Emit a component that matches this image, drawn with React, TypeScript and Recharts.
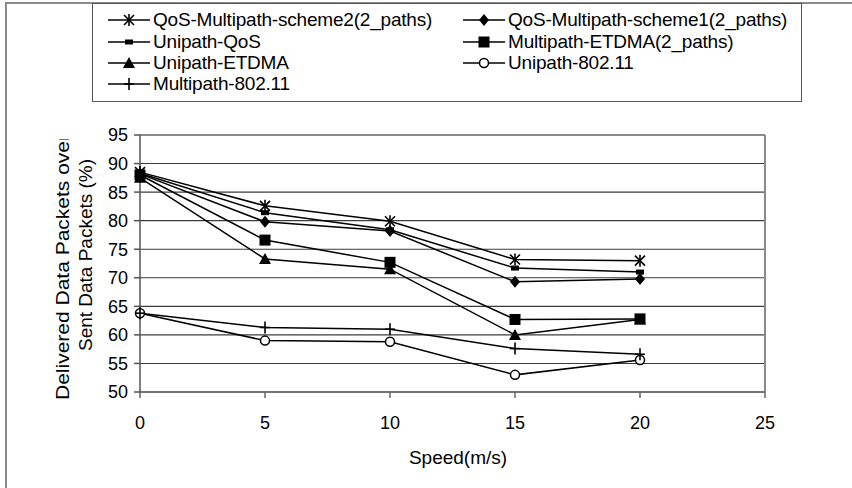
import { LineChart, Line, XAxis, YAxis, CartesianGrid, ReferenceLine, Label } from "recharts";

const speeds = [0, 5, 10, 15, 20];
const qosScheme2 = [88.5, 82.6, 79.9, 73.2, 73.0];
const qosScheme1 = [88.2, 79.8, 78.2, 69.3, 69.8];
const unipathQos = [88.3, 81.4, 78.4, 71.7, 71.0];
const multipathEtdma = [88.0, 76.6, 72.7, 62.7, 62.8];
const unipathEtdma = [87.5, 73.3, 71.5, 60.0, 62.7];
const unipath80211 = [63.8, 59.0, 58.8, 53.0, 55.6];
const multipath80211 = [63.8, 61.3, 61.0, 57.6, 56.6];

const xTicks = [0, 5, 10, 15, 20, 25];
const yTicks = [50, 55, 60, 65, 70, 75, 80, 85, 90, 95];

type MarkerKind = "star" | "diamond" | "dash" | "square" | "triangle" | "circle" | "plus";

interface Series {
  key: string;
  name: string;
  values: number[];
  marker: MarkerKind;
}

// legend order is row by row, two columns
const series: Series[] = [
  { key: "qos2", name: "QoS-Multipath-scheme2(2_paths)", values: qosScheme2, marker: "star" },
  { key: "qos1", name: "QoS-Multipath-scheme1(2_paths)", values: qosScheme1, marker: "diamond" },
  { key: "uniQos", name: "Unipath-QoS", values: unipathQos, marker: "dash" },
  { key: "multiEtdma", name: "Multipath-ETDMA(2_paths)", values: multipathEtdma, marker: "square" },
  { key: "uniEtdma", name: "Unipath-ETDMA", values: unipathEtdma, marker: "triangle" },
  { key: "uni80211", name: "Unipath-802.11", values: unipath80211, marker: "circle" },
  { key: "multi80211", name: "Multipath-802.11", values: multipath80211, marker: "plus" },
];

const rows = speeds.map((speed, i) => {
  const row: Record<string, number> = { speed };
  series.forEach((s) => (row[s.key] = s.values[i]));
  return row;
});

const FONT = '"Liberation Sans", Arial, sans-serif';

function Marker({ kind, cx, cy }: { kind: MarkerKind; cx: number; cy: number }) {
  switch (kind) {
    case "star":
      return (
        <g stroke="#000" strokeWidth={1.6}>
          <line x1={cx - 5} y1={cy - 5} x2={cx + 5} y2={cy + 5} />
          <line x1={cx - 5} y1={cy + 5} x2={cx + 5} y2={cy - 5} />
          <line x1={cx} y1={cy - 6} x2={cx} y2={cy + 6} />
        </g>
      );
    case "diamond":
      return <polygon points={`${cx},${cy - 6} ${cx + 5},${cy} ${cx},${cy + 6} ${cx - 5},${cy}`} fill="#000" />;
    case "dash":
      return <rect x={cx - 4} y={cy - 2.5} width={8} height={5} fill="#000" />;
    case "square":
      return <rect x={cx - 5.5} y={cy - 5.5} width={11} height={11} fill="#000" />;
    case "triangle":
      return <polygon points={`${cx},${cy - 6} ${cx + 6},${cy + 5} ${cx - 6},${cy + 5}`} fill="#000" />;
    case "circle":
      return <circle cx={cx} cy={cy} r={4.5} fill="#fff" stroke="#000" strokeWidth={1.5} />;
    case "plus":
      return (
        <g stroke="#000" strokeWidth={1.6}>
          <line x1={cx} y1={cy - 6} x2={cx} y2={cy + 6} />
          <line x1={cx - 5} y1={cy} x2={cx + 5} y2={cy} />
        </g>
      );
  }
}

function YTitle() {
  return (
    <g fontFamily={FONT} fontSize={19} fill="#000">
      <defs>
        <clipPath id="ytitle-clip">
          <rect x={0} y={139} width={140} height={300} />
        </clipPath>
      </defs>
      <g clipPath="url(#ytitle-clip)">
        <text transform="translate(62,400) rotate(-90)" textAnchor="start" dominantBaseline="central"
          textLength={266} lengthAdjust="spacingAndGlyphs">
          Delivered Data Packets over
        </text>
      </g>
      <text transform="translate(85,255) rotate(-90)" textAnchor="middle" dominantBaseline="central"
        textLength={192} lengthAdjust="spacingAndGlyphs">
        Sent Data Packets (%)
      </text>
    </g>
  );
}

function ChartLegend() {
  const rowY = [16, 38, 59, 80];
  const colX = [15, 370];
  return (
    <div
      style={{
        position: "absolute", left: 92, top: 3, width: 708, height: 97,
        border: "1.5px solid #555", background: "#fff", fontFamily: FONT, fontSize: 19, color: "#000",
      }}
    >
      {series.map((s, i) => (
        <div
          key={s.key}
          style={{
            position: "absolute", left: colX[i % 2], top: rowY[Math.floor(i / 2)] - 11,
            height: 22, display: "flex", alignItems: "center", whiteSpace: "nowrap",
          }}
        >
          <svg width={44} height={22} style={{ flexShrink: 0 }}>
            <line x1={0} y1={11} x2={42} y2={11} stroke="#000" strokeWidth={1.5} />
            <Marker kind={s.marker} cx={21} cy={11} />
          </svg>
          <span style={{ marginLeft: 1, letterSpacing: -0.2 }}>{s.name}</span>
        </div>
      ))}
    </div>
  );
}

export default function App() {
  return (
    <div style={{ position: "relative", width: 852, height: 488, background: "#fff", overflow: "hidden" }}>
      <style>{`body{margin:0}`}</style>
      <div style={{ position: "absolute", left: 5, top: 2, right: 0, bottom: 0, borderTop: "2px solid #8a8a8a", borderLeft: "2px solid #8a8a8a" }} />
      <LineChart width={852} height={488} data={rows} margin={{ top: 135, right: 87, bottom: 0, left: 0 }}
        style={{ position: "absolute", left: 0, top: 0 }}>
        <CartesianGrid horizontal vertical={false} stroke="#3c3c3c" strokeWidth={1.1} />
        <XAxis
          dataKey="speed" type="number" domain={[0, 25]} ticks={xTicks} height={96}
          stroke="#666" strokeWidth={1.5} tickSize={6} tickMargin={18}
          tick={{ fill: "#000", fontSize: 18, fontFamily: FONT }}
        >
          <Label
            content={() => (
              <text x={458} y={464} textAnchor="middle" fontFamily={FONT} fontSize={19} fill="#000">
                Speed(m/s)
              </text>
            )}
          />
        </XAxis>
        <YAxis
          type="number" domain={[50, 95]} ticks={yTicks} width={140}
          stroke="#555" strokeWidth={1.5} tickSize={6} tickMargin={6}
          tick={{ fill: "#000", fontSize: 18, fontFamily: FONT }}
        >
          <Label content={() => <YTitle />} />
        </YAxis>
        <ReferenceLine y={95} stroke="#8a8a8a" strokeWidth={2} />
        <ReferenceLine x={25} stroke="#8a8a8a" strokeWidth={2} />
        {series.map((s) => (
          <Line
            key={s.key}
            dataKey={s.key}
            name={s.name}
            stroke="#000"
            strokeWidth={1.5}
            isAnimationActive={false}
            dot={(p: any) => <Marker key={`${s.key}-${p.index}`} kind={s.marker} cx={p.cx} cy={p.cy} />}
            activeDot={false}
          />
        ))}
      </LineChart>
      <ChartLegend />
    </div>
  );
}
